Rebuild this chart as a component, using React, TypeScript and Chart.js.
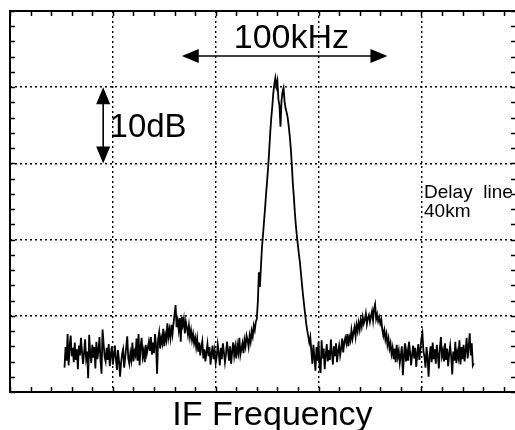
import React, { useEffect, useRef } from "react";
import { Chart, registerables } from "chart.js";

Chart.register(...registerables);

// ---- Trace sampling grid (kHz) ----
const TRACE_START_KHZ = 26.5;
const TRACE_STEP_KHZ = 0.5;

// ---- Trace levels (dB), segment by segment ----
// 26.5 – 67.5 kHz : noise floor
const NOISE_LEFT = [
  -46.8, -44.1, -45.9, -42.4, -46.5, -44.0, -42.6, -45.3, -44.2, -46.1,
  -43.5, -45.8, -44.4, -47.0, -43.9, -45.2, -42.9, -44.7, -46.3, -44.9,
  -43.1, -45.6, -44.7, -48.2, -42.5, -45.0, -46.2, -43.8, -45.5, -44.1,
  -46.9, -43.4, -45.7, -44.6, -42.8, -45.9, -47.6, -41.8, -43.6, -45.4,
  -46.0, -44.2, -45.8, -43.7, -46.6, -45.1, -44.0, -46.4, -45.3, -43.9,
  -45.7, -47.1, -44.5, -45.9, -48.0, -46.2, -45.0, -44.4, -46.8, -45.5,
  -44.1, -42.7, -45.6, -46.3, -44.9, -45.8, -43.5, -46.0, -44.7, -45.2,
  -43.0, -45.9, -42.4, -46.5, -44.0, -42.9, -45.4, -44.6, -46.1, -43.8,
  -45.0, -44.2, -43.4,
];
// 68.0 – 77.0 kHz : slow rise
const RISE_LEFT = [
  -44.6, -42.8, -45.1, -43.5, -44.9, -42.4, -43.8, -47.6, -43.1, -42.2,
  -44.3, -42.9, -43.6, -41.7, -44.0, -42.5, -43.2, -41.0, -42.8,
];
// 77.5 – 90.0 kHz : left side lobe
const BUMP_LEFT = [
  -41.8, -42.9, -41.2, -42.4, -41.0, -39.8, -38.6, -41.5, -40.6, -41.8,
  -40.3, -43.4, -40.1, -41.2, -40.4, -42.3, -40.8, -41.6, -42.5, -41.3,
  -42.8, -41.9, -43.2, -42.4, -43.6, -42.9,
];
// 90.5 – 100.0 kHz : fall back to floor
const FALL_LEFT = [
  -44.1, -43.0, -44.7, -43.5, -45.2, -44.0, -43.3, -45.6, -44.4, -46.0,
  -44.8, -43.7, -45.3, -44.1, -46.4, -45.0, -43.9, -45.7, -44.6, -46.2,
];
// 100.5 – 115.0 kHz : floor before the carrier
const NOISE_MID = [
  -45.4, -43.8, -44.9, -46.5, -44.2, -45.7, -43.6, -44.8, -46.1, -45.0,
  -43.4, -44.6, -45.9, -44.0, -46.3, -44.7, -43.5, -45.2, -44.1, -45.6,
  -43.9, -44.8, -42.9, -45.1, -44.3, -43.6, -44.9, -43.2, -44.0, -42.6,
];
// 115.5 – 146.0 kHz : main line
const MAIN_PEAK = [
  -43.2, -44.1, -42.6, -43.4, -42.0, -42.7, -41.3, -41.9, -40.8, -40.4,
  -38.1, -34.3, -36.2, -33.5, -31.0, -29.4, -27.6, -25.9, -24.0, -22.3,
  -20.5, -18.4, -16.0, -14.1, -12.6, -10.8, -9.6, -8.8, -9.9, -9.2,
  -11.6, -12.4, -15.2, -11.8, -10.6, -10.1, -11.9, -12.8, -13.3, -14.0,
  -15.1, -16.4, -18.0, -20.1, -22.6, -24.4, -26.5, -28.2, -29.6, -30.8,
  -32.0, -33.1, -34.6, -36.0, -37.4, -38.6, -39.8, -41.0, -41.9, -42.7,
  -43.5, -42.8,
];
// 146.5 – 163.0 kHz : floor
const NOISE_RIGHT = [
  -44.6, -46.3, -43.8, -45.5, -47.2, -44.1, -45.9, -43.4, -46.7, -47.5,
  -43.2, -45.6, -44.3, -47.0, -45.1, -43.7, -46.0, -44.5, -45.8, -43.1,
  -44.9, -46.4, -44.0, -45.3, -43.6, -46.1, -44.7, -43.9, -45.2, -44.3,
  -43.0, -44.8, -43.5, -42.9,
];
// 163.5 – 186.0 kHz : right side lobe
const BUMP_RIGHT = [
  -43.6, -42.4, -44.0, -42.8, -43.3, -41.9, -43.0, -42.2, -41.5, -42.7,
  -41.2, -42.0, -40.9, -41.8, -40.6, -41.4, -40.2, -41.0, -40.5, -39.7,
  -41.1, -40.3, -39.9, -40.8, -40.1, -39.4, -40.6, -39.1, -38.5, -40.4,
  -39.8, -40.7, -40.2, -41.0, -40.5, -41.8, -42.6, -41.9, -43.1, -42.4,
  -43.8, -43.0, -44.3, -43.6, -45.0, -44.2,
];
// 186.5 – 225.5 kHz : floor to the end of the sweep
const NOISE_END = [
  -45.7, -44.3, -46.1, -43.8, -45.4, -44.6, -46.2, -45.2, -44.0, -47.8,
  -45.3, -43.6, -46.0, -44.7, -45.9, -43.4, -44.8, -46.5, -45.1, -43.9,
  -45.6, -44.2, -46.7, -45.0, -43.7, -45.8, -44.5, -43.0, -42.3, -44.6,
  -45.4, -46.8, -44.1, -45.5, -48.0, -45.2, -44.0, -46.1, -43.5, -45.7,
  -44.4, -46.3, -43.8, -45.1, -46.9, -44.2, -42.8, -45.3, -44.6, -46.0,
  -43.6, -45.8, -44.3, -46.6, -45.0, -43.9, -45.4, -47.7, -44.7, -45.9,
  -43.4, -46.2, -44.8, -45.5, -43.2, -46.4, -44.1, -45.7, -43.8, -46.0,
  -44.5, -42.9, -45.6, -44.0, -42.3, -45.2, -43.6, -46.5, -46.2,
];

const TRACE_DB = [
  ...NOISE_LEFT, ...RISE_LEFT, ...BUMP_LEFT, ...FALL_LEFT, ...NOISE_MID,
  ...MAIN_PEAK, ...NOISE_RIGHT, ...BUMP_RIGHT, ...NOISE_END,
];

// ---- Axes (screen graticule) ----
const X_MIN = 0;
const X_MAX = 246;
const X_MAJOR = 50;
const X_MINOR = 10;
const Y_MIN = -50;
const Y_MAX = 0;
const Y_MAJOR = 10;
const Y_MINOR = 2;

// ---- Texts ----
const X_TITLE = "IF Frequency";
const SPAN_LABEL = "100kHz";
const REF_LABEL = "10dB";
const NOTE_LINES = ["Delay  line", "40km"];

// ---- Annotation anchors (data units) ----
const SPAN_ARROW = { from: 83.5, to: 183.5, level: -5.9 };
const SPAN_TEXT = { x: 108.8, level: -4.8 };
const REF_ARROW = { x: 45.3, from: -10, to: -20 };
const REF_TEXT = { x: 48.4, level: -16.5 };
const NOTE_TEXT = { x: 201.3, levels: [-24.5, -27.0] };
const TITLE_TEXT = { x: 127.6 };

const FONT = "'Liberation Sans', Arial, Helvetica, sans-serif";

function arrowHead(ctx: CanvasRenderingContext2D, tipX: number, tipY: number, dx: number, dy: number, len: number, half: number) {
  const bx = tipX - dx * len;
  const by = tipY - dy * len;
  ctx.beginPath();
  ctx.moveTo(tipX, tipY);
  ctx.lineTo(bx - dy * half, by + dx * half);
  ctx.lineTo(bx + dy * half, by - dx * half);
  ctx.closePath();
  ctx.fill();
}

const overlayPlugin = {
  id: "overlay",
  afterDraw(chart: any) {
    const { ctx, chartArea: a, scales } = chart;
    const x = scales.x;
    const y = scales.y;
    ctx.save();
    ctx.strokeStyle = "#000";
    ctx.fillStyle = "#000";
    ctx.setLineDash([]);

    // minor ticks
    ctx.lineWidth = 1.5;
    const tl = 5;
    ctx.beginPath();
    for (let v = X_MIN; v <= X_MAX; v += X_MINOR) {
      const px = Math.round(x.getPixelForValue(v)) + 0.5;
      ctx.moveTo(px, a.top);
      ctx.lineTo(px, a.top + tl);
      ctx.moveTo(px, a.bottom);
      ctx.lineTo(px, a.bottom - tl);
    }
    for (let v = Y_MIN; v <= Y_MAX; v += Y_MINOR) {
      const py = Math.round(y.getPixelForValue(v)) + 0.5;
      ctx.moveTo(a.left, py);
      ctx.lineTo(a.left + tl, py);
      ctx.moveTo(a.right, py);
      ctx.lineTo(a.right - tl, py);
    }
    ctx.stroke();

    // frame
    ctx.lineWidth = 2;
    ctx.strokeRect(a.left, a.top, a.right - a.left, a.bottom - a.top);

    // 100 kHz span arrow
    const sx1 = x.getPixelForValue(SPAN_ARROW.from);
    const sx2 = x.getPixelForValue(SPAN_ARROW.to);
    const sy = y.getPixelForValue(SPAN_ARROW.level);
    ctx.lineWidth = 1.6;
    ctx.beginPath();
    ctx.moveTo(sx1 + 10, sy);
    ctx.lineTo(sx2 - 10, sy);
    ctx.stroke();
    arrowHead(ctx, sx1, sy, -1, 0, 17, 7);
    arrowHead(ctx, sx2, sy, 1, 0, 17, 7);

    // 10 dB arrow
    const rx = x.getPixelForValue(REF_ARROW.x);
    const ry1 = y.getPixelForValue(REF_ARROW.from);
    const ry2 = y.getPixelForValue(REF_ARROW.to);
    ctx.beginPath();
    ctx.moveTo(rx, ry1 + 10);
    ctx.lineTo(rx, ry2 - 10);
    ctx.stroke();
    arrowHead(ctx, rx, ry1, 0, -1, 17, 7);
    arrowHead(ctx, rx, ry2, 0, 1, 17, 7);

    // texts
    ctx.textBaseline = "alphabetic";
    ctx.textAlign = "left";
    ctx.font = `34px ${FONT}`;
    ctx.fillText(SPAN_LABEL, x.getPixelForValue(SPAN_TEXT.x), y.getPixelForValue(SPAN_TEXT.level));
    ctx.font = `33px ${FONT}`;
    ctx.fillText(REF_LABEL, x.getPixelForValue(REF_TEXT.x), y.getPixelForValue(REF_TEXT.level));
    ctx.font = `19px ${FONT}`;
    NOTE_LINES.forEach((t, i) => {
      ctx.fillText(t, x.getPixelForValue(NOTE_TEXT.x), y.getPixelForValue(NOTE_TEXT.levels[i]));
    });
    ctx.font = `34px ${FONT}`;
    ctx.textAlign = "center";
    ctx.fillText(X_TITLE, x.getPixelForValue(TITLE_TEXT.x), a.bottom + 33);
    ctx.restore();
  },
};

export default function App() {
  const ref = useRef<HTMLCanvasElement | null>(null);
  useEffect(() => {
    if (!ref.current) return;
    const points = TRACE_DB.map((v, i) => ({ x: TRACE_START_KHZ + i * TRACE_STEP_KHZ, y: v }));
    const gridCommon = {
      color: "#000",
      lineWidth: 1.4,
      drawTicks: false,
    };
    const chart = new Chart(ref.current, {
      type: "line",
      data: {
        datasets: [
          {
            data: points,
            borderColor: "#000",
            borderWidth: 1.8,
            pointRadius: 0,
            tension: 0,
            fill: false,
          },
        ],
      },
      options: {
        animation: false,
        responsive: false,
        maintainAspectRatio: false,
        layout: { padding: { left: 10, top: 11, right: 4, bottom: 38 } },
        plugins: { legend: { display: false }, tooltip: { enabled: false } },
        events: [],
        scales: {
          x: {
            type: "linear",
            min: X_MIN,
            max: X_MAX,
            ticks: { display: false, stepSize: X_MAJOR, includeBounds: false },
            grid: gridCommon,
            border: { display: false, dash: [2, 3] },
          },
          y: {
            type: "linear",
            min: Y_MIN,
            max: Y_MAX,
            ticks: { display: false, stepSize: Y_MAJOR },
            grid: gridCommon,
            border: { display: false, dash: [2, 3] },
          },
        },
      },
      plugins: [overlayPlugin],
    });
    return () => chart.destroy();
  }, []);
  return (
    <div
      style={{
        position: "fixed",
        left: 0,
        top: 0,
        width: 515,
        height: 430,
        overflow: "hidden",
        background: "#fff",
      }}
    >
      <canvas ref={ref} width={520} height={430} style={{ width: 520, height: 430, display: "block" }} />
    </div>
  );
}
